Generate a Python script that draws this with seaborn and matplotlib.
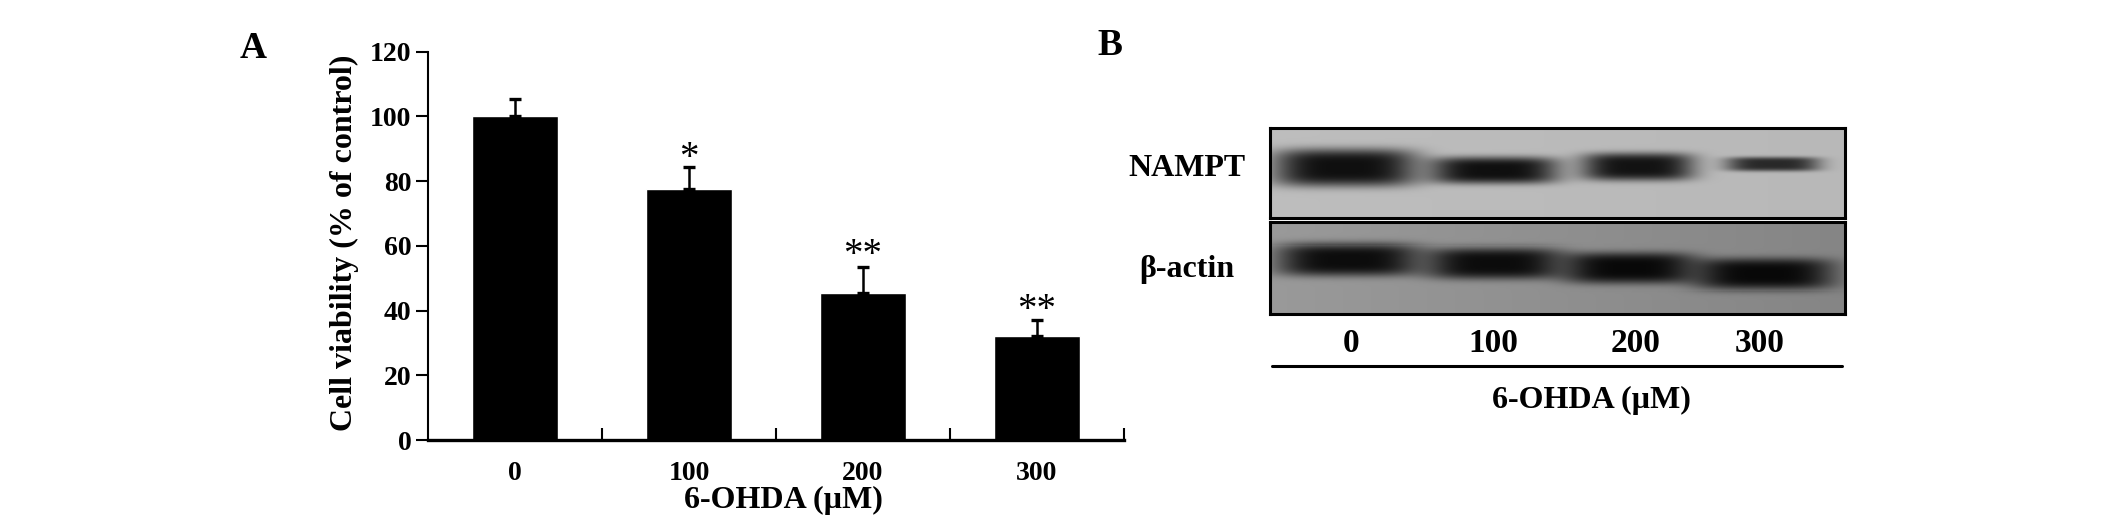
import numpy as np
import pandas as pd
import matplotlib
matplotlib.use('Agg')
import matplotlib.pyplot as plt
import seaborn as sns

# Bar chart data (panel A)
doses = ['0', '100', '200', '300']
viability = [100, 77.5, 45.5, 32]
viability_err = [5.5, 7, 8, 5]
stars = ['', '*', '**', '**']
star_y = [0, 88.5, 58.5, 41.5]

# Blot bands (panel B), as fractions of each blot box
nampt_x = [0.13, 0.39, 0.64, 0.875]
nampt_y = [0.44, 0.47, 0.43, 0.40]
nampt_w = [0.125, 0.112, 0.098, 0.082]
nampt_h = [0.21, 0.15, 0.155, 0.08]
nampt_dark = [0.92, 0.92, 0.90, 0.78]

actin_x = [0.135, 0.39, 0.625, 0.86]
actin_y = [0.41, 0.45, 0.50, 0.565]
actin_w = [0.125, 0.118, 0.115, 0.122]
actin_h = [0.18, 0.175, 0.175, 0.175]
actin_dark = [0.92, 0.92, 0.94, 0.94]

W, H = 2126, 527
sns.set_theme(style='ticks')
plt.rcParams['font.family'] = ['Liberation Serif', 'DejaVu Serif']
plt.rcParams['font.weight'] = 'bold'

fig = plt.figure(figsize=(W / 100, H / 100), dpi=100)


def px_axes(x0, y0, x1, y1):
    return fig.add_axes([x0 / W, 1 - y1 / H, (x1 - x0) / W, (y1 - y0) / H])


def px_text(x, y, s, **kw):
    fig.text(x / W, 1 - y / H, s, ha='center', va='center', color='black', **kw)


def blot_image(xs, ys, ws, hs, darks, bg, bg_right):
    # smooth grey picture of the bands, 0 is black
    yy, xx = np.mgrid[0:1:90j, 0:1:575j]
    img = bg + (bg_right - bg) * xx
    for x, y, w, h, d in zip(xs, ys, ws, hs, darks):
        r = ((xx - x) / w) ** 4 + ((yy - y) / h) ** 4
        img = img * (1 - d * np.exp(-r))
    return img


# Panel A
df = pd.DataFrame({'dose': doses, 'viability': viability})
ax = px_axes(428, 51.7, 1124, 440)
sns.barplot(data=df, x='dose', y='viability', order=doses, color='black',
            saturation=1, width=0.49, ax=ax)
ax.errorbar(range(len(doses)), viability,
            yerr=[np.zeros(len(doses)), viability_err],
            fmt='none', ecolor='black', elinewidth=1.8, capsize=4.5, capthick=2.4)
for i, s in enumerate(stars):
    if s:
        ax.text(i, star_y[i], s, ha='center', va='center_baseline', fontsize=28,
                fontweight='normal', color='black')

ax.set_xlim(-0.5, 3.5)
ax.set_ylim(0, 120)
ax.set_yticks(range(0, 121, 20))
ax.set_xticks([0.5, 1.5, 2.5, 3.5], minor=True)
ax.tick_params(axis='x', which='major', length=0, pad=15, labelsize=20, labelcolor='black')
ax.tick_params(axis='x', which='minor', direction='in', length=9, width=1.5, color='black')
ax.tick_params(axis='y', direction='out', length=9, width=1.5, pad=3, labelsize=20,
               color='black', labelcolor='black')
ax.set_xlabel('')
ax.set_ylabel('')
sns.despine(ax=ax)
ax.spines['left'].set_linewidth(1.5)
ax.spines['left'].set_color('black')
ax.spines['bottom'].set_linewidth(2.4)
ax.spines['bottom'].set_color('black')

fig.text(344 / W, 1 - 243 / H, 'Cell viability (% of control)', rotation=90,
         ha='center', va='center', fontsize=23, color='black')
px_text(783, 500, '6-OHDA (µM)', fontsize=23)
px_text(253, 48, 'A', fontsize=27)
px_text(1110, 45, 'B', fontsize=27)

# Panel B
blots = [
    ((1270, 128, 1845, 218), blot_image(nampt_x, nampt_y, nampt_w, nampt_h, nampt_dark, 0.74, 0.72)),
    ((1270, 222, 1845, 314), blot_image(actin_x, actin_y, actin_w, actin_h, actin_dark, 0.60, 0.52)),
]
for box, img in blots:
    bx = px_axes(*box)
    sns.heatmap(img, cmap='gray', vmin=0, vmax=1, cbar=False, xticklabels=False,
                yticklabels=False, rasterized=True, ax=bx)
    for sp in bx.spines.values():
        sp.set_visible(True)
        sp.set_linewidth(2.2)
        sp.set_color('black')

px_text(1187, 169, 'NAMPT', fontsize=23)
px_text(1187, 270, 'β-actin', fontsize=23)
for x, s in zip([1351, 1493, 1636, 1760], doses):
    px_text(x, 344, s, fontsize=24)
fig.add_artist(plt.Line2D([1272 / W, 1842 / W], [1 - 366 / H, 1 - 366 / H],
                          color='black', lw=2.2))
px_text(1591, 400, '6-OHDA (µM)', fontsize=23)

fig.savefig('out.png', dpi=100, facecolor='white')
